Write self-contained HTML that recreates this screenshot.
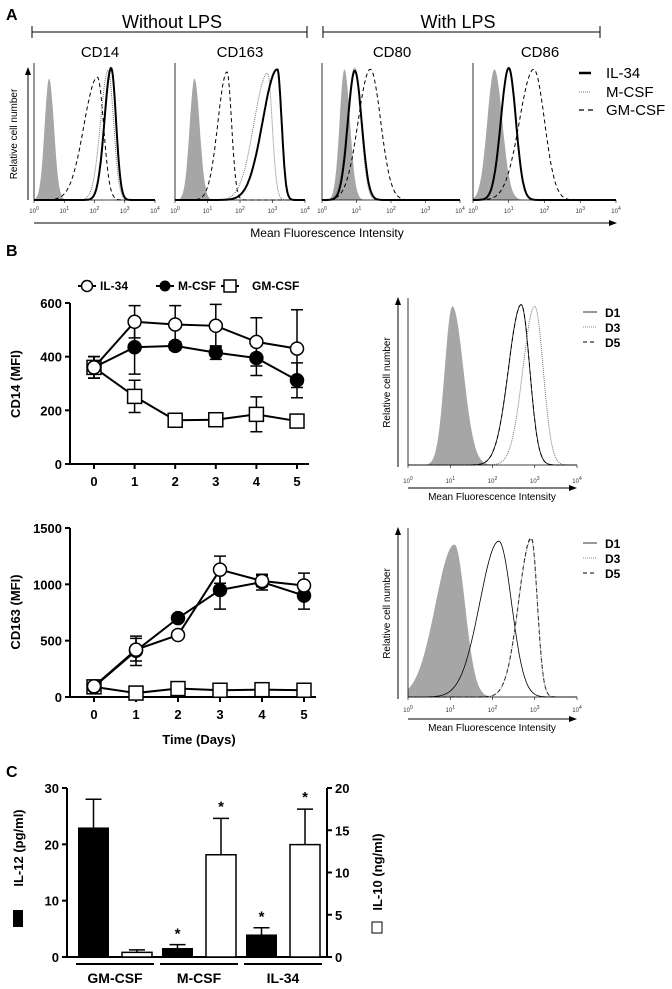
<!DOCTYPE html>
<html><head><meta charset="utf-8"><style>
body{margin:0;background:#fff}
svg{display:block;font-family:"Liberation Sans",Arial,sans-serif}
.b{font-weight:bold}
</style></head><body>
<svg id="s" width="672" height="989" viewBox="0 0 672 989">
<defs><marker id="ar" markerWidth="8" markerHeight="8" refX="7" refY="4" orient="auto"><path d="M0,1 L8,4 L0,7 z" fill="#000"/></marker></defs>
<g id="A">
<text x="6" y="20" class="b" font-size="16">A</text>
<text x="172" y="28" font-size="18" text-anchor="middle">Without LPS</text>
<text x="458" y="28" font-size="18" text-anchor="middle">With LPS</text>
<path d="M32,32H307M32,26V38M307,26V38M323,32H600M323,26V38M600,26V38" stroke="#000" fill="none"/>
<text x="100" y="57" font-size="15" text-anchor="middle">CD14</text>
<text x="240" y="57" font-size="15" text-anchor="middle">CD163</text>
<text x="392" y="57" font-size="15" text-anchor="middle">CD80</text>
<text x="540" y="57" font-size="15" text-anchor="middle">CD86</text>
<line x1="28" y1="200" x2="28" y2="68" stroke="#000" marker-end="url(#ar)"/>
<text transform="translate(17,134) rotate(-90)" font-size="10" text-anchor="middle">Relative cell number</text>
<line x1="34" y1="223" x2="616" y2="223" stroke="#000" marker-end="url(#ar)"/>
<text x="327" y="237" font-size="12" text-anchor="middle">Mean Fluorescence Intensity</text>
<g>
<line x1="579" y1="73" x2="591" y2="73" stroke="#000" stroke-width="2.5"/><text x="606" y="78" font-size="15">IL-34</text>
<line x1="579" y1="92" x2="591" y2="92" stroke="#777" stroke-dasharray="1,1"/><text x="606" y="97" font-size="15">M-CSF</text>
<line x1="579" y1="110" x2="593" y2="110" stroke="#000" stroke-width="1.3" stroke-dasharray="5,4"/><text x="606" y="115" font-size="15">GM-CSF</text>
</g>
</g>
<g id="B">
<text x="6" y="256" class="b" font-size="16">B</text>
<g class="b" font-size="12">
<line x1="78" y1="286" x2="96" y2="286" stroke="#000" stroke-width="2"/><circle cx="87" cy="286" r="5.5" fill="#fff" stroke="#000" stroke-width="1.5"/><text x="100" y="290">IL-34</text>
<line x1="156" y1="286" x2="174" y2="286" stroke="#000" stroke-width="2"/><circle cx="165" cy="286" r="5.5" fill="#000"/><text x="178" y="290">M-CSF</text>
<line x1="221" y1="286" x2="239" y2="286" stroke="#000" stroke-width="2"/><rect x="224" y="280" width="12" height="12" fill="#fff" stroke="#000" stroke-width="1.5"/><text x="252" y="290">GM-CSF</text>
</g>
<text transform="translate(20,384) rotate(-90)" class="b" font-size="13" text-anchor="middle">CD14 (MFI)</text>
<text transform="translate(20,612) rotate(-90)" class="b" font-size="13" text-anchor="middle">CD163 (MFI)</text>
<text x="199" y="744" class="b" font-size="13" text-anchor="middle">Time (Days)</text>
<g class="b" font-size="12">
<line x1="583" y1="312" x2="597" y2="312" stroke="#000" stroke-width="0.8"/><text x="605" y="317">D1</text>
<line x1="583" y1="327" x2="597" y2="327" stroke="#888" stroke-dasharray="1,1"/><text x="605" y="332">D3</text>
<line x1="583" y1="342" x2="597" y2="342" stroke="#000" stroke-dasharray="4,3"/><text x="605" y="347">D5</text>
</g>
<g class="b" font-size="12">
<line x1="583" y1="543" x2="597" y2="543" stroke="#000" stroke-width="0.8"/><text x="605" y="548">D1</text>
<line x1="583" y1="558" x2="597" y2="558" stroke="#888" stroke-dasharray="1,1"/><text x="605" y="563">D3</text>
<line x1="583" y1="573" x2="597" y2="573" stroke="#000" stroke-dasharray="4,3"/><text x="605" y="578">D5</text>
</g>
</g>
<g id="C">
<text x="6" y="777" class="b" font-size="16">C</text>
<rect x="13" y="910" width="10" height="17" fill="#000"/>
<text transform="translate(23,848) rotate(-90)" class="b" font-size="13" text-anchor="middle">IL-12 (pg/ml)</text>
<rect x="372" y="922" width="10" height="11" fill="#fff" stroke="#000"/>
<text transform="translate(382,872) rotate(-90)" class="b" font-size="13" text-anchor="middle">IL-10 (ng/ml)</text>
</g>
</svg>
<script>
const NS="http://www.w3.org/2000/svg";
const svg=document.getElementById('s');
function mk(t,a,p){const e=document.createElementNS(NS,t);for(const k in a)e.setAttribute(k,a[k]);(p||svg).appendChild(e);return e;}

// ---------- Panel B line charts data ----------
const days=[0,1,2,3,4,5];
const cd14Ticks=[0,200,400,600];
const cd14IL34=[360,530,520,515,455,430];
const cd14IL34Err=[40,60,70,80,90,145];
const cd14MCSF=[360,435,440,415,395,312];
const cd14MCSFErr=[40,100,15,25,65,65];
const cd14GMCSF=[360,252,163,165,185,160];
const cd14GMCSFErr=[40,60,15,15,65,20];
const cd163Ticks=[0,500,1000,1500];
const cd163IL34=[95,420,550,1130,1030,990];
const cd163IL34Err=[0,100,0,120,50,110];
const cd163MCSF=[90,410,700,950,1020,900];
const cd163MCSFErr=[0,130,30,170,70,120];
const cd163GMCSF=[90,35,75,60,65,60];
const cd163GMCSFErr=[0,10,10,10,10,10];

// ---------- Panel C data ----------
const cCats=["GM-CSF","M-CSF","IL-34"];
const il12=[23,1.6,4];
const il12Err=[5,0.6,1.2];
const il10=[0.55,12.1,13.3];
const il10Err=[0.3,4.3,4.2];
const il12Ticks=[0,10,20,30];
const il10Ticks=[0,5,10,15,20];
const il12Star=[false,true,true];
const il10Star=[false,true,true];

// ---------- Histogram data (log10 peak, left sd, right sd, rel height) ----------
const histStyles={gray:{fill:"#a6a6a6",stroke:"none"},solid:{fill:"none",stroke:"#000",w:2},dotted:{fill:"none",stroke:"#777",w:1,da:"1,1"},dashed:{fill:"none",stroke:"#000",w:1,da:"4,3"},thin:{fill:"none",stroke:"#000",w:0.8}};
const hCD14=[["gray",0.5,0.15,0.16,0.92],["dashed",2.1,0.45,0.2,0.93],["dotted",2.45,0.25,0.18,0.98],["solid",2.55,0.22,0.16,1]];
const hCD163=[["gray",0.6,0.15,0.16,0.92],["dashed",1.6,0.28,0.14,0.97],["dotted",2.85,0.42,0.14,0.96],["solid",3.15,0.45,0.13,0.99]];
const hCD80=[["gray",0.65,0.14,0.16,0.99],["dotted",0.95,0.22,0.18,1],["solid",0.95,0.2,0.2,0.98],["dashed",1.4,0.35,0.3,0.99]];
const hCD86=[["gray",0.6,0.2,0.22,0.99],["dotted",1.0,0.22,0.2,0.99],["solid",1.0,0.22,0.2,1],["dashed",1.7,0.4,0.3,0.99]];
const hB1=[["gray",1.05,0.18,0.26,0.98],["thin",2.68,0.3,0.2,0.99],["dashed",2.68,0.3,0.2,0.99],["dotted",3.0,0.28,0.2,0.98]];
const hB2=[["gray",1.1,0.45,0.25,0.93],["thin",2.15,0.45,0.3,0.95],["dashed",2.92,0.3,0.14,0.97],["dotted",2.92,0.3,0.14,0.96]];

function hist(name,x0,x1,yb,yt,curves,ticksY){
  const g=mk('g',{});
  
  
  const sx=v=>x0+(x1-x0)*v/4, H=yb-yt;
  curves.forEach(c=>{
    const [st,mu,sl,sr,h]=c;const s=histStyles[st];
    let d="M"+x0+","+yb;
    for(let i=0;i<=200;i++){const v=i*4/200;const sd=v<mu?sl:sr;const y=yb-H*h*Math.exp(-0.5*((v-mu)/sd)**2);d+=" L"+sx(v).toFixed(1)+","+y.toFixed(1);}
    if(s.fill!=="none")d+=" L"+x1+","+yb+"Z";
    const p=mk('path',{d:d,fill:s.fill,stroke:s.stroke,"stroke-width":s.w||0},g);
    if(s.da)p.setAttribute('stroke-dasharray',s.da);
    
    
  });
  mk('path',{d:`M${x0},${yt-5}V${yb}H${x1}`,fill:"none",stroke:"#000","stroke-width":0.8},g);
  for(let k=0;k<=4;k++){
    const t=mk('text',{x:sx(k),y:ticksY,"font-size":6,"text-anchor":"middle",fill:"#333"},g);
    t.innerHTML='10<tspan dy="-3" font-size="5">'+k+'</tspan>';
    mk('line',{x1:sx(k),y1:yb,x2:sx(k),y2:yb+3,stroke:"#000","stroke-width":0.6},g);
  }
}
hist('cd14-histogram',34,155,200,68,hCD14,213);
hist('cd163-histogram',175,305,200,68,hCD163,213);
hist('cd80-histogram',322,460,200,68,hCD80,213);
hist('cd86-histogram',473,616,200,68,hCD86,213);
hist('cd14-day-histogram',408,577,465,303,hB1,483);
hist('cd163-day-histogram',408,577,697,533,hB2,712);

// B hist axes
[[398,467,298,'hist1'],[398,699,528,'hist2']].forEach(a=>{
  const l=mk('line',{x1:a[0],y1:a[1],x2:a[0],y2:a[2],stroke:"#000",'marker-end':'url(#ar)'});
  
  
  const t=mk('text',{transform:`translate(${a[0]-8},${(a[1]+a[2])/2}) rotate(-90)`,"font-size":10,"text-anchor":"middle"});
  t.textContent="Relative cell number";
  
  
});
[[488,498],[719,729]].forEach((a,i)=>{
  const l=mk('line',{x1:408,y1:a[0],x2:576,y2:a[0],stroke:"#000",'marker-end':'url(#ar)'});
  
  
  const t=mk('text',{x:492,y:a[1]+2,"font-size":10,"text-anchor":"middle"});
  t.textContent="Mean Fluorescence Intensity";
  
  
});

// ---------- line charts ----------
function lineChart(name,cfg){
  const g=mk('g',{});
  
  
  const {x0,x5,y0,yTop,max,ticks,series}=cfg;
  const sx=d=>x0+(x5-x0)*d/5, sy=v=>y0-(y0-yTop)*v/max;
  const ax=70;
  mk('path',{d:`M${ax},${yTop}V${y0}H${x5+12}`,fill:"none",stroke:"#000","stroke-width":2},g);
  ticks.forEach(t=>{
    mk('line',{x1:ax-5,y1:sy(t),x2:ax,y2:sy(t),stroke:"#000","stroke-width":2},g);
    const tx=mk('text',{x:ax-8,y:sy(t)+5,"font-size":13,"text-anchor":"end",class:"b"},g);tx.textContent=t;
  });
  days.forEach(d=>{
    mk('line',{x1:sx(d),y1:y0,x2:sx(d),y2:y0+5,stroke:"#000","stroke-width":2},g);
    const tx=mk('text',{x:sx(d),y:y0+22,"font-size":13,"text-anchor":"middle",class:"b"},g);tx.textContent=d;
  });
  series.forEach(s=>{
    const sg=mk('g',{},g);
    
    
    mk('polyline',{points:s.v.map((v,i)=>sx(days[i])+","+sy(v)).join(" "),fill:"none",stroke:"#000","stroke-width":2},sg);
    s.v.forEach((v,i)=>{
      const e=s.e[i];if(e>0){const x=sx(days[i]);
      mk('path',{d:`M${x},${sy(v-e)}V${sy(v+e)}M${x-6},${sy(v-e)}H${x+6}M${x-6},${sy(v+e)}H${x+6}`,stroke:"#000","stroke-width":1.5,fill:"none"},sg);}
    });
    s.v.forEach((v,i)=>{
      const x=sx(days[i]),y=sy(v);
      if(s.m==='sq')mk('rect',{x:x-7,y:y-7,width:14,height:14,fill:"#fff",stroke:"#000","stroke-width":1.5},sg);
      else mk('circle',{cx:x,cy:y,r:6.5,fill:s.m==='fill'?"#000":"#fff",stroke:"#000","stroke-width":1.5},sg);
    });
  });
}
lineChart('cd14-line-chart',{x0:94,x5:297,y0:464,yTop:303,max:600,ticks:cd14Ticks,series:[
 {name:'gmcsf-series',v:cd14GMCSF,e:cd14GMCSFErr,m:'sq'},
 {name:'mcsf-series',v:cd14MCSF,e:cd14MCSFErr,m:'fill'},
 {name:'il34-series',v:cd14IL34,e:cd14IL34Err,m:'open'}]});
lineChart('cd163-line-chart',{x0:94,x5:304,y0:697,yTop:528,max:1500,ticks:cd163Ticks,series:[
 {name:'gmcsf-series',v:cd163GMCSF,e:cd163GMCSFErr,m:'sq'},
 {name:'mcsf-series',v:cd163MCSF,e:cd163MCSFErr,m:'fill'},
 {name:'il34-series',v:cd163IL34,e:cd163IL34Err,m:'open'}]});

// ---------- Panel C bars ----------
(function(){
  const g=mk('g',{});
  
  
  const y0=957,yT=788,lx=67,rx=327;
  const syL=v=>y0-(y0-yT)*v/30, syR=v=>y0-(y0-yT)*v/20;
  mk('path',{d:`M${lx},${yT}V${y0}`,stroke:"#000","stroke-width":2},g);
  mk('path',{d:`M${rx},${yT}V${y0}`,stroke:"#000","stroke-width":2},g);
  il12Ticks.forEach(t=>{mk('line',{x1:lx-5,y1:syL(t),x2:lx,y2:syL(t),stroke:"#000","stroke-width":2},g);
    const tx=mk('text',{x:lx-8,y:syL(t)+5,"font-size":13,"text-anchor":"end",class:"b"},g);tx.textContent=t;});
  il10Ticks.forEach(t=>{mk('line',{x1:rx,y1:syR(t),x2:rx+5,y2:syR(t),stroke:"#000","stroke-width":2},g);
    const tx=mk('text',{x:rx+8,y:syR(t)+5,"font-size":13,class:"b"},g);tx.textContent=t;});
  mk('line',{x1:lx,y1:y0,x2:rx,y2:y0,stroke:"#000","stroke-width":2},g);
  const gw=84;
  cCats.forEach((c,i)=>{
    const gx=76+i*gw;
    const b1=mk('rect',{x:gx+2,y:syL(il12[i]),width:31,height:y0-syL(il12[i]),fill:"#000"},g);
    
    
    const e1=syL(il12[i]+il12Err[i]),bx1=gx+17.5;
    mk('path',{d:`M${bx1},${syL(il12[i])}V${e1}M${bx1-8},${e1}H${bx1+8}`,stroke:"#000","stroke-width":1.5},g);
    const b2=mk('rect',{x:gx+46,y:syR(il10[i]),width:30,height:y0-syR(il10[i]),fill:"#fff",stroke:"#000","stroke-width":1.5},g);
    
    
    const e2=syR(il10[i]+il10Err[i]),bx2=gx+61;
    mk('path',{d:`M${bx2},${syR(il10[i])}V${e2}M${bx2-8},${e2}H${bx2+8}`,stroke:"#000","stroke-width":1.5},g);
    if(il12Star[i]){const s=mk('text',{x:bx1,y:e1-6,"font-size":15,"text-anchor":"middle",class:"b"},g);s.textContent="*";}
    if(il10Star[i]){const s=mk('text',{x:bx2,y:e2-7,"font-size":15,"text-anchor":"middle",class:"b"},g);s.textContent="*";}
    mk('line',{x1:gx,y1:964,x2:gx+78,y2:964,stroke:"#000","stroke-width":2},g);
    const t=mk('text',{x:gx+39,y:983,"font-size":14,"text-anchor":"middle",class:"b"},g);t.textContent=c;
  });
})();
</script>
</body></html>
